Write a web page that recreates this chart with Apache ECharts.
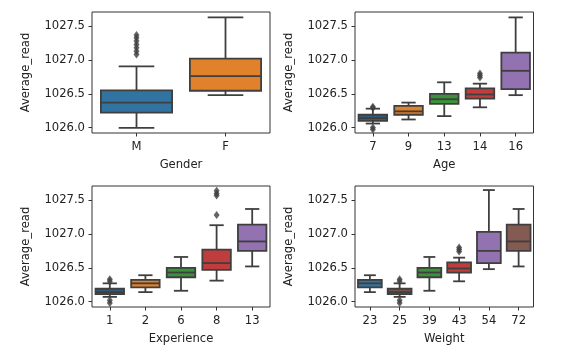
<!DOCTYPE html>
<html><head><meta charset="utf-8">
<script src="https://cdn.jsdelivr.net/npm/echarts@6/dist/echarts.min.js"></script>
<style>html,body{margin:0;padding:0;background:#fff}#c{width:575px;height:358px}</style>
</head><body><div id="c"></div>
<script>
// Shared y axis
const yTicks = [1026.0, 1026.5, 1027.0, 1027.5];
const yMin = 1025.92, yMax = 1027.71;
const yName = 'Average_read';

// Box stats: [lowerWhisker, Q1, median, Q3, upperWhisker]
const genderCats = ['M', 'F'];
const genderBoxes = [
  [1025.995, 1026.22, 1026.37, 1026.55, 1026.905],
  [1026.48, 1026.545, 1026.76, 1027.02, 1027.63]
];
const genderOutliers = [[0, 1027.08], [0, 1027.13], [0, 1027.18], [0, 1027.23], [0, 1027.28], [0, 1027.33], [0, 1027.37]];
const genderColors = ['#3274a1', '#e1812c'];

const ageCats = ['7', '9', '13', '14', '16'];
const ageBoxes = [
  [1026.06, 1026.10, 1026.14, 1026.19, 1026.28],
  [1026.12, 1026.19, 1026.24, 1026.32, 1026.37],
  [1026.17, 1026.35, 1026.42, 1026.50, 1026.67],
  [1026.30, 1026.43, 1026.49, 1026.58, 1026.65],
  [1026.48, 1026.57, 1026.84, 1027.11, 1027.63]
];
const ageOutliers = [[0, 1026.31], [0, 1026.29], [0, 1026.0], [0, 1025.97], [3, 1026.74], [3, 1026.77], [3, 1026.80]];
const ageColors = ['#355a7a', '#e1812c', '#3a923a', '#c03d3e', '#9372b2'];

const expCats = ['1', '2', '6', '8', '13'];
const expBoxes = [
  [1026.07, 1026.11, 1026.14, 1026.19, 1026.27],
  [1026.14, 1026.21, 1026.27, 1026.32, 1026.39],
  [1026.16, 1026.36, 1026.43, 1026.50, 1026.66],
  [1026.31, 1026.47, 1026.57, 1026.77, 1027.13],
  [1026.52, 1026.75, 1026.89, 1027.14, 1027.37]
];
const expOutliers = [[0, 1026.30], [0, 1026.33], [0, 1026.02], [0, 1025.98], [3, 1027.28], [3, 1027.57], [3, 1027.60], [3, 1027.64]];
const expColors = ['#355a7a', '#e1812c', '#3a923a', '#c03d3e', '#9372b2'];

const weightCats = ['23', '25', '39', '43', '54', '72'];
const weightBoxes = [
  [1026.14, 1026.21, 1026.27, 1026.32, 1026.39],
  [1026.07, 1026.11, 1026.14, 1026.19, 1026.27],
  [1026.16, 1026.36, 1026.43, 1026.50, 1026.66],
  [1026.30, 1026.43, 1026.49, 1026.58, 1026.65],
  [1026.48, 1026.57, 1026.75, 1027.03, 1027.65],
  [1026.52, 1026.75, 1026.89, 1027.14, 1027.37]
];
const weightOutliers = [[1, 1026.30], [1, 1026.33], [1, 1026.02], [1, 1025.98], [3, 1026.74], [3, 1026.77], [3, 1026.80]];
const weightColors = ['#3274a1', '#7a5248', '#3a923a', '#c03d3e', '#9372b2', '#845b53'];

const FF = 'DejaVu Sans';
const FS = 11.6;
const TXT = '#222';
const LINE = '#3f3f3f';
const LW = 1.8;

const panels = [
  {cats: genderCats, boxes: genderBoxes, out: genderOutliers, colors: genderColors, name: 'Gender', grid: {left: 92, top: 12, width: 178, height: 121}},
  {cats: ageCats, boxes: ageBoxes, out: ageOutliers, colors: ageColors, name: 'Age', grid: {left: 355, top: 12, width: 178.5, height: 121}},
  {cats: expCats, boxes: expBoxes, out: expOutliers, colors: expColors, name: 'Experience', grid: {left: 92, top: 186, width: 178, height: 121}},
  {cats: weightCats, boxes: weightBoxes, out: weightOutliers, colors: weightColors, name: 'Weight', grid: {left: 355, top: 186, width: 178.5, height: 121}}
];

function makeRender(colors) {
  return function (params, api) {
    const i = api.value(0);
    const lo = api.value(1), q1 = api.value(2), med = api.value(3), q3 = api.value(4), hi = api.value(5);
    const band = api.size([1, 0])[0];
    const w = band * 0.8;
    const cx = api.coord([i, med])[0];
    const yLo = api.coord([i, lo])[1];
    const yQ1 = api.coord([i, q1])[1];
    const yMed = api.coord([i, med])[1];
    const yQ3 = api.coord([i, q3])[1];
    const yHi = api.coord([i, hi])[1];
    const ls = {stroke: LINE, lineWidth: LW};
    return {
      type: 'group',
      children: [
        {type: 'line', shape: {x1: cx, y1: yQ3, x2: cx, y2: yHi}, style: ls},
        {type: 'line', shape: {x1: cx, y1: yQ1, x2: cx, y2: yLo}, style: ls},
        {type: 'line', shape: {x1: cx - w / 4, y1: yHi, x2: cx + w / 4, y2: yHi}, style: ls},
        {type: 'line', shape: {x1: cx - w / 4, y1: yLo, x2: cx + w / 4, y2: yLo}, style: ls},
        {type: 'rect', shape: {x: cx - w / 2, y: yQ3, width: w, height: yQ1 - yQ3}, style: {fill: colors[params.dataIndex], stroke: LINE, lineWidth: LW}},
        {type: 'line', shape: {x1: cx - w / 2, y1: yMed, x2: cx + w / 2, y2: yMed}, style: ls}
      ]
    };
  };
}

const grids = [], xAxes = [], yAxes = [], series = [];
panels.forEach((p, gi) => {
  grids.push(Object.assign({show: true, borderColor: '#333', borderWidth: 1, backgroundColor: 'transparent'}, p.grid));
  xAxes.push({
    type: 'category', gridIndex: gi, data: p.cats, name: p.name, nameLocation: 'middle', nameGap: 26,
    nameTextStyle: {color: TXT, fontSize: FS, fontFamily: FF},
    axisLine: {show: false},
    axisTick: {show: true, alignWithLabel: true, length: 3.5, lineStyle: {color: '#333', width: 1}},
    axisLabel: {color: TXT, fontSize: FS, fontFamily: FF, margin: 8},
    splitLine: {show: false}
  });
  yAxes.push({
    type: 'value', gridIndex: gi, min: yMin, max: yMax, name: yName, nameLocation: 'middle', nameGap: 60, nameRotate: 90,
    nameTextStyle: {color: TXT, fontSize: FS, fontFamily: FF},
    axisLine: {show: false},
    axisTick: {show: true, length: 3.5, customValues: yTicks, lineStyle: {color: '#333', width: 1}},
    axisLabel: {color: TXT, fontSize: FS, fontFamily: FF, margin: 7, customValues: yTicks, formatter: v => v.toFixed(1)},
    splitLine: {show: false}
  });
  series.push({
    type: 'custom', xAxisIndex: gi, yAxisIndex: gi,
    data: p.boxes.map((b, i) => [i].concat(b)),
    encode: {x: 0, y: [1, 2, 3, 4, 5]},
    renderItem: makeRender(p.colors),
    clip: false, silent: true, z: 2
  });
  series.push({
    type: 'scatter', xAxisIndex: gi, yAxisIndex: gi,
    data: p.out, symbol: 'diamond', symbolSize: [6, 8],
    itemStyle: {color: LINE}, silent: true, z: 3
  });
});

const chart = echarts.init(document.getElementById('c'), null, {renderer: 'canvas'});
chart.setOption({
  animation: false,
  backgroundColor: '#fff',
  grid: grids, xAxis: xAxes, yAxis: yAxes, series: series
});
</script>
</body></html>
